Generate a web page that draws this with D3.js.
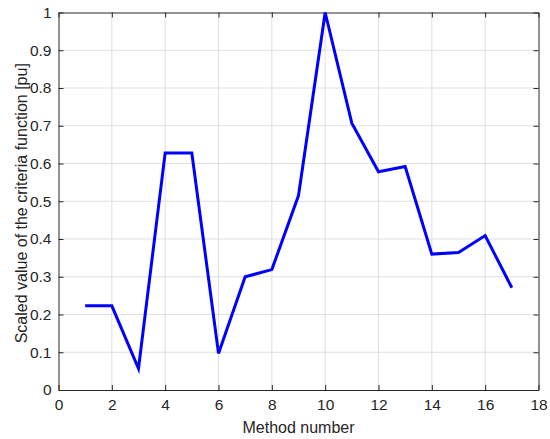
<!DOCTYPE html>
<html>
<head>
<meta charset="utf-8">
<script src="https://cdn.jsdelivr.net/npm/d3@7"></script>
<style>
  body { margin: 0; background: #fff; }
  svg text { font-family: "Liberation Sans", Arial, sans-serif; fill: #262626; }
</style>
</head>
<body>
<svg id="chart"></svg>
<script>
const methods = [1, 2, 3, 4, 5, 6, 7, 8, 9, 10, 11, 12, 13, 14, 15, 16, 17];
const values  = [0.223, 0.223, 0.057, 0.628, 0.628, 0.097, 0.300, 0.319, 0.515, 1.0,
                 0.707, 0.578, 0.592, 0.360, 0.364, 0.409, 0.271];
const xTicks  = [0, 2, 4, 6, 8, 10, 12, 14, 16, 18];
const yTicks  = [0, 0.1, 0.2, 0.3, 0.4, 0.5, 0.6, 0.7, 0.8, 0.9, 1];

const SVG_W = 550;
const SVG_H = 439;
const MARGIN = { top: 12.5, right: 11.5, bottom: 49, left: 58.5 };
const W = SVG_W - MARGIN.left - MARGIN.right;
const H = SVG_H - MARGIN.top - MARGIN.bottom;

const xScale = d3.scaleLinear().domain([0, 18]).range([0, W]);
const yScale = d3.scaleLinear().domain([0, 1]).range([H, 0]);

const svg = d3.select('#chart')
  .attr('width', SVG_W)
  .attr('height', SVG_H);

const g = svg.append('g')
  .attr('transform', `translate(${MARGIN.left},${MARGIN.top})`);

// grid
g.append('g').selectAll('line').data(xTicks.slice(1, -1)).enter().append('line')
  .attr('x1', d => xScale(d)).attr('x2', d => xScale(d))
  .attr('y1', 0).attr('y2', H)
  .attr('stroke', '#dfdfdf').attr('stroke-width', 1);
g.append('g').selectAll('line').data(yTicks.slice(1, -1)).enter().append('line')
  .attr('y1', d => yScale(d)).attr('y2', d => yScale(d))
  .attr('x1', 0).attr('x2', W)
  .attr('stroke', '#dfdfdf').attr('stroke-width', 1);

// axes, ticks pointing inward
const fmt = d => d3.format('~g')(d);
const xAxis = g.append('g').attr('transform', `translate(0,${H})`)
  .call(d3.axisBottom(xScale).tickValues(xTicks).tickFormat(fmt).tickSizeInner(-5).tickSizeOuter(0).tickPadding(9));
const yAxis = g.append('g')
  .call(d3.axisLeft(yScale).tickValues(yTicks).tickFormat(fmt).tickSizeInner(-5).tickSizeOuter(0).tickPadding(7));
const xTop = g.append('g')
  .call(d3.axisTop(xScale).tickValues(xTicks).tickFormat('').tickSizeInner(-5).tickSizeOuter(0));
const yRight = g.append('g').attr('transform', `translate(${W},0)`)
  .call(d3.axisRight(yScale).tickValues(yTicks).tickFormat('').tickSizeInner(-5).tickSizeOuter(0));

[xAxis, yAxis, xTop, yRight].forEach(a => {
  a.attr('font-size', null).attr('font-family', null);
  a.selectAll('path, line').attr('stroke', '#262626');
  a.selectAll('path').attr('stroke-width', 1);
  a.selectAll('text').style('font-size', '15.5px').attr('fill', '#262626')
    .style('font-family', '"Liberation Sans", Arial, sans-serif');
});

// line
const line = d3.line()
  .x((d, i) => xScale(methods[i]))
  .y(d => yScale(d));

g.append('path')
  .datum(values)
  .attr('d', line)
  .attr('fill', 'none')
  .attr('stroke', '#0000ff')
  .attr('stroke-width', 3)
  .attr('stroke-linejoin', 'miter');

// labels
svg.append('text')
  .attr('x', MARGIN.left + W / 2)
  .attr('y', 433)
  .attr('text-anchor', 'middle')
  .style('font-size', '16px')
  .text('Method number');

svg.append('text')
  .attr('transform', `translate(27,${MARGIN.top + H / 2 + 2}) rotate(-90)`)
  .attr('text-anchor', 'middle')
  .style('font-size', '16px')
  .text('Scaled value of the criteria function [pu]');
</script>
</body>
</html>
